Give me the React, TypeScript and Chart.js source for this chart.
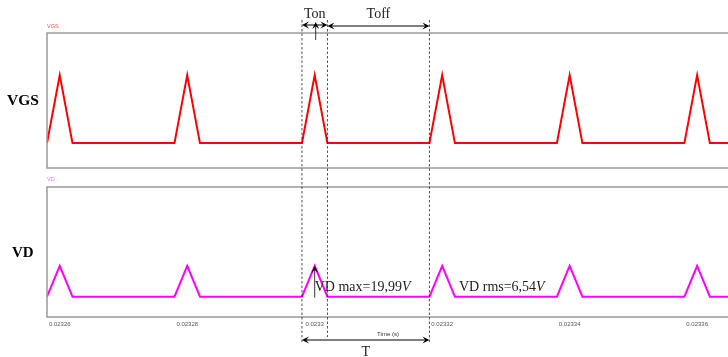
import React, { useEffect, useRef } from "react";
import { Chart, registerables } from "chart.js";

Chart.register(...registerables);

// ---- data ----
const time = [
  0.023258, 0.02326, 0.023262,
  0.023278, 0.02328, 0.023282,
  0.023298, 0.0233, 0.023302,
  0.023318, 0.02332, 0.023322,
  0.023338, 0.02334, 0.023342,
  0.023358, 0.02336, 0.023362,
  0.023365,
];
const vgs = [
  0, 15, 0,
  0, 15, 0,
  0, 15, 0,
  0, 15, 0,
  0, 15, 0,
  0, 15, 0,
  0,
];
const vd = [
  0, 19.99, 0,
  0, 19.99, 0,
  0, 19.99, 0,
  0, 19.99, 0,
  0, 19.99, 0,
  0, 19.99, 0,
  0,
];
const xTicks = [0.02326, 0.02328, 0.0233, 0.02332, 0.02334, 0.02336];
const xTickLabels = ["0.02326", "0.02328", "0.0233", "0.02332", "0.02334", "0.02336"];

const X_MIN = 0.023258;
const X_MAX = 0.023365;
const VGS_RANGE = [-5.5, 24.3];
const VD_RANGE = [-13.2, 71.25];

// annotation times / values
const T_ON_START = 0.023298;
const T_PEAK = 0.0233;
const T_ON_END = 0.023302;
const T_PERIOD_END = 0.023318;
const VD_MAX = 19.99;
const VD_MAX_TEXT = "VD max=19,99";
const VD_RMS_TEXT = "VD rms=6,54";

const W = 728;
const H = 357;
const TOP_H = 175;
const BOT_TOP = 175;
const BOT_H = 182;

const SERIF = "'Liberation Serif', 'Times New Roman', serif";
const SANS = "'Liberation Sans', Arial, sans-serif";

const framePlugin = {
  id: "frame",
  afterDatasetsDraw(chart: any) {
    const { ctx, chartArea } = chart;
    ctx.save();
    ctx.strokeStyle = "#9a9a9a";
    ctx.lineWidth = 1.5;
    ctx.strokeRect(chartArea.left, chartArea.top, chartArea.right - chartArea.left, chartArea.bottom - chartArea.top);
    ctx.restore();
  },
};

function arrowHead(ctx: CanvasRenderingContext2D, x: number, y: number, ang: number) {
  const len = 7;
  const w = 3.5;
  const c = Math.cos(ang);
  const s = Math.sin(ang);
  ctx.beginPath();
  ctx.moveTo(x, y);
  ctx.lineTo(x - len * c - w * s, y - len * s + w * c);
  ctx.lineTo(x - len * 0.6 * c, y - len * 0.6 * s);
  ctx.lineTo(x - len * c + w * s, y - len * s - w * c);
  ctx.closePath();
  ctx.fill();
}

function doubleArrow(ctx: CanvasRenderingContext2D, x1: number, x2: number, y: number) {
  ctx.beginPath();
  ctx.moveTo(x1 + 2, y);
  ctx.lineTo(x2 - 2, y);
  ctx.stroke();
  arrowHead(ctx, x1, y, Math.PI);
  arrowHead(ctx, x2, y, 0);
}

export default function App() {
  const topRef = useRef<HTMLCanvasElement>(null);
  const botRef = useRef<HTMLCanvasElement>(null);
  const ovRef = useRef<HTMLCanvasElement>(null);

  useEffect(() => {
    const top = new Chart(topRef.current!, {
      type: "line",
      data: {
        datasets: [
          {
            label: "VGS",
            data: time.map((t, i) => ({ x: t, y: vgs[i] })),
            borderColor: "#ff0000",
            borderWidth: 2,
            pointRadius: 0,
            tension: 0,
          },
        ],
      },
      options: {
        responsive: false,
        animation: false,
        events: [],
        layout: { padding: { left: 47, right: 1, top: 33, bottom: TOP_H - 168 } },
        plugins: { legend: { display: false }, tooltip: { enabled: false } },
        scales: {
          x: { type: "linear", min: X_MIN, max: X_MAX, display: false },
          y: { min: VGS_RANGE[0], max: VGS_RANGE[1], display: false },
        },
      },
      plugins: [framePlugin],
    });

    const bot = new Chart(botRef.current!, {
      type: "line",
      data: {
        datasets: [
          {
            label: "VD",
            data: time.map((t, i) => ({ x: t, y: vd[i] })),
            borderColor: "#ff00ff",
            borderWidth: 2,
            pointRadius: 0,
            tension: 0,
          },
        ],
      },
      options: {
        responsive: false,
        animation: false,
        events: [],
        layout: { padding: { left: 47, right: 1, top: 187 - BOT_TOP, bottom: 20 } },
        plugins: { legend: { display: false }, tooltip: { enabled: false } },
        scales: {
          x: {
            type: "linear",
            min: X_MIN,
            max: X_MAX,
            grid: { display: false, drawTicks: false },
            border: { display: false },
            afterBuildTicks: (axis: any) => {
              axis.ticks = xTicks.map((v) => ({ value: v }));
            },
            ticks: {
              autoSkip: false,
              maxRotation: 0,
              padding: 4,
              color: "#555",
              font: { family: SANS, size: 6, lineHeight: 1 },
              callback: (_v: any, i: number) => xTickLabels[i],
            },
            title: {
              display: true,
              text: "Time (s)",
              color: "#333",
              font: { family: SANS, size: 6, lineHeight: 1 },
              padding: { top: 0, bottom: 0 },
            },
          },
          y: { min: VD_RANGE[0], max: VD_RANGE[1], display: false },
        },
      },
      plugins: [framePlugin],
    });

    // overlay annotations
    const ov = ovRef.current!;
    const ctx = ov.getContext("2d")!;
    ctx.clearRect(0, 0, W, H);
    const xs = top.scales.x;
    const xOnStart = xs.getPixelForValue(T_ON_START);
    const xPeak = xs.getPixelForValue(T_PEAK);
    const xOnEnd = xs.getPixelForValue(T_ON_END);
    const xPer = xs.getPixelForValue(T_PERIOD_END);
    const yVdPeak = BOT_TOP + bot.scales.y.getPixelForValue(VD_MAX);
    const yVdBase = BOT_TOP + bot.scales.y.getPixelForValue(0);

    // big labels
    ctx.fillStyle = "#000";
    ctx.textBaseline = "alphabetic";
    ctx.textAlign = "left";
    ctx.font = `bold 15.5px ${SERIF}`;
    ctx.fillText("VGS", 7, 105);
    ctx.font = `bold 15px ${SERIF}`;
    ctx.fillText("VD", 12, 257);

    // small series labels
    ctx.font = `5.5px ${SANS}`;
    ctx.textBaseline = "middle";
    ctx.fillStyle = "#ff4d4d";
    ctx.fillText(top.data.datasets[0].label as string, 47, 26);
    ctx.fillStyle = "#ff66ff";
    ctx.fillText(bot.data.datasets[0].label as string, 47, 179);

    // dashed lines
    ctx.strokeStyle = "#222";
    ctx.lineWidth = 0.8;
    ctx.setLineDash([2.5, 2]);
    ctx.beginPath();
    ctx.moveTo(xOnStart, 20);
    ctx.lineTo(xOnStart, 344);
    ctx.moveTo(xOnEnd, 20);
    ctx.lineTo(xOnEnd, 337);
    ctx.moveTo(xPer, 20);
    ctx.lineTo(xPer, 344);
    ctx.stroke();
    ctx.setLineDash([]);

    // arrows
    ctx.strokeStyle = "#000";
    ctx.fillStyle = "#000";
    ctx.lineWidth = 1;
    doubleArrow(ctx, xOnStart, xOnEnd, 25);
    doubleArrow(ctx, xOnEnd, xPer, 26);
    doubleArrow(ctx, xOnStart, xPer, 340);
    // small up arrow inside Ton
    ctx.lineWidth = 0.8;
    ctx.beginPath();
    ctx.moveTo(xPeak + 1, 40);
    ctx.lineTo(xPeak + 1, 26);
    ctx.stroke();
    arrowHead(ctx, xPeak + 1, 22, -Math.PI / 2);
    // VD max arrow
    ctx.beginPath();
    ctx.moveTo(xPeak, yVdBase + 1);
    ctx.lineTo(xPeak, yVdPeak + 4);
    ctx.stroke();
    arrowHead(ctx, xPeak, yVdPeak, -Math.PI / 2);

    // texts
    ctx.textBaseline = "alphabetic";
    ctx.textAlign = "center";
    ctx.fillStyle = "#222";
    ctx.font = `14px ${SERIF}`;
    ctx.fillText("Ton", (xOnStart + xOnEnd) / 2, 18);
    ctx.fillText("Toff", (xOnEnd + xPer) / 2, 18);
    ctx.fillText("T", (xOnStart + xPer) / 2, 356);

    ctx.textAlign = "left";
    const drawVText = (txt: string, x: number, y: number) => {
      ctx.font = `14px ${SERIF}`;
      ctx.fillText(txt, x, y);
      const w = ctx.measureText(txt).width;
      ctx.font = `italic 14px ${SERIF}`;
      ctx.fillText("V", x + w, y);
    };
    drawVText(VD_MAX_TEXT, xPeak, 291);
    drawVText(VD_RMS_TEXT, 459, 291);

    return () => {
      top.destroy();
      bot.destroy();
    };
  }, []);

  return (
    <div
      style={{
        position: "absolute",
        left: 0,
        top: 0,
        width: W,
        height: H,
        overflow: "hidden",
        background: "#fff",
      }}
    >
      <canvas ref={topRef} width={730} height={TOP_H} style={{ position: "absolute", left: 0, top: 0 }} />
      <canvas ref={botRef} width={730} height={BOT_H} style={{ position: "absolute", left: 0, top: BOT_TOP }} />
      <canvas
        ref={ovRef}
        width={W}
        height={H}
        style={{ position: "absolute", left: 0, top: 0, pointerEvents: "none" }}
      />
    </div>
  );
}
